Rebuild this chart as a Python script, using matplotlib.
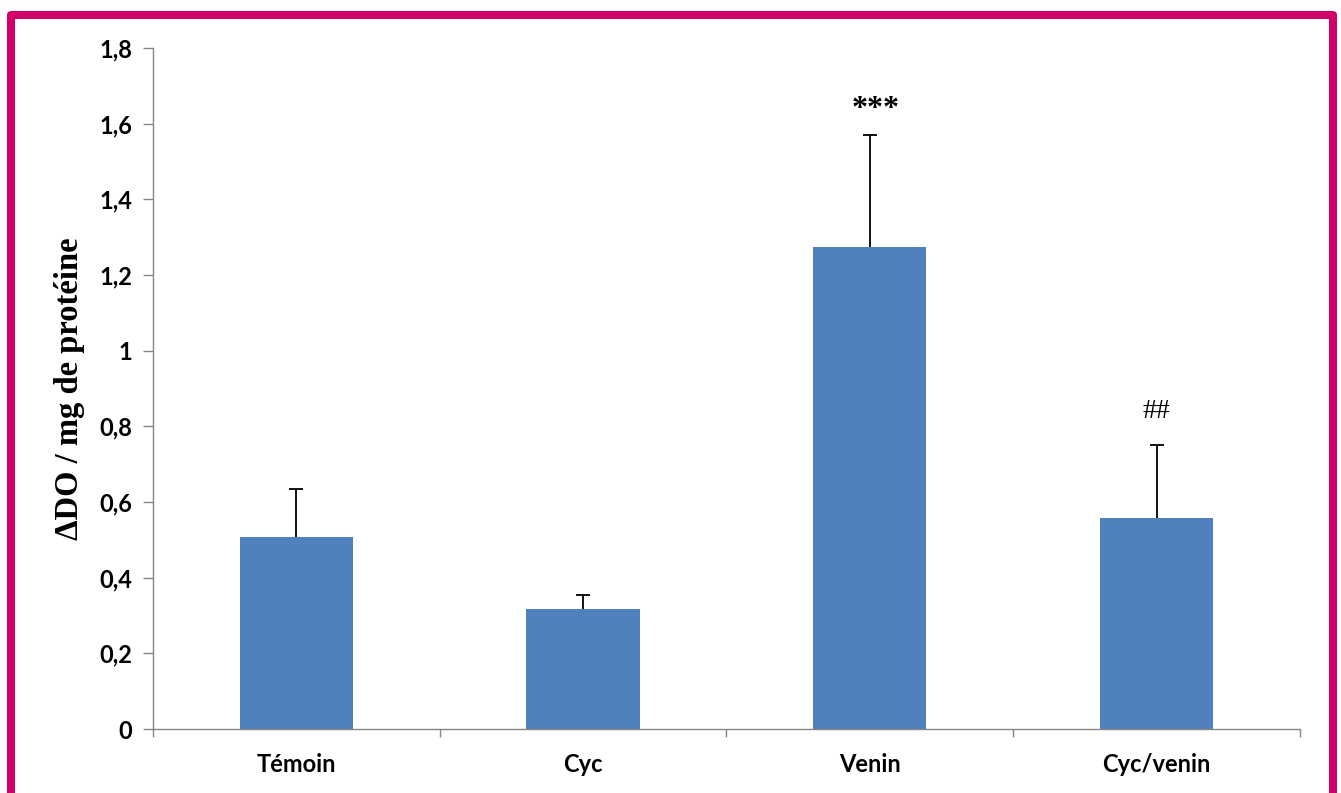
import numpy as np
import matplotlib.pyplot as plt
from matplotlib.patches import Rectangle

# group means and upper error (mean + SD)
groups = ['Témoin', 'Cyc', 'Venin', 'Cyc/venin']
means = [0.507, 0.317, 1.274, 0.558]
err_top = [0.634, 0.354, 1.570, 0.751]
marks = ['', '', '***', '##']
yticks = [0, 0.2, 0.4, 0.6, 0.8, 1.0, 1.2, 1.4, 1.6, 1.8]
ytick_labels = ['0', '0,2', '0,4', '0,6', '0,8', '1', '1,2', '1,4', '1,6', '1,8']

blue = '#4F81BD'
grey = '#868686'
pink = '#D0006A'

fig = plt.figure(figsize=(13.41, 7.93), dpi=100)
ax = fig.add_axes([0.1141, 0.0807, 0.9694 - 0.1141, 0.9395 - 0.0807])

x = np.arange(len(groups))
ax.bar(x, means, width=0.395, color=blue, zorder=2)
# one-sided error bars: stem from bar top up to mean + SD, cap only on top
ax.vlines(x, means, err_top, color='black', linewidth=1.3, zorder=3)
ax.plot(x, err_top, linestyle='none', marker='_', markersize=10,
        markeredgewidth=1.3, color='black', zorder=3)

# significance marks above the error bars
for i, m in enumerate(marks):
    if not m:
        continue
    if m.startswith('*'):
        ax.text(x[i] + 0.02, err_top[i] + 0.03, m, ha='center', va='bottom',
                family='Liberation Serif', fontweight='bold', fontsize=23)
    else:
        ax.text(x[i], err_top[i] + 0.055, m, ha='center', va='bottom',
                family='Liberation Serif', fontsize=20)

ax.set_xlim(-0.5, len(groups) - 0.5)
ax.set_ylim(0, 1.8)
ax.set_yticks(yticks)
ax.set_yticklabels(ytick_labels, family='Lato', fontweight='bold', fontsize=17)

# ticks between categories, labels centred under the bars
ax.set_xticks(np.arange(len(groups) + 1) - 0.5)
ax.set_xticklabels([])
ax.set_xticks(x, minor=True)
ax.set_xticklabels(groups, minor=True, family='Lato', fontweight='bold', fontsize=17)
ax.tick_params(axis='x', which='major', length=6, width=1, color=grey, direction='out')
ax.tick_params(axis='x', which='minor', length=0, pad=17)
ax.tick_params(axis='y', length=7, width=1, color=grey, direction='out', pad=8)

for s in ['top', 'right']:
    ax.spines[s].set_visible(False)
for s in ['left', 'bottom']:
    ax.spines[s].set_color(grey)
    ax.spines[s].set_linewidth(1)

ax.set_ylabel('ΔDO / mg de protéine', family='Liberation Serif', fontweight='bold',
              fontsize=23.5, labelpad=10)

# frame around the whole figure
W, H = 1341, 793
frame = Rectangle((11 / W, -0.05), (1333 - 11) / W, 1 - 15 / H + 0.05,
                  transform=fig.transFigure, fill=False, edgecolor=pink,
                  linewidth=5.8, joinstyle='round')
fig.patches.append(frame)

fig.savefig('out.png', dpi=100)
